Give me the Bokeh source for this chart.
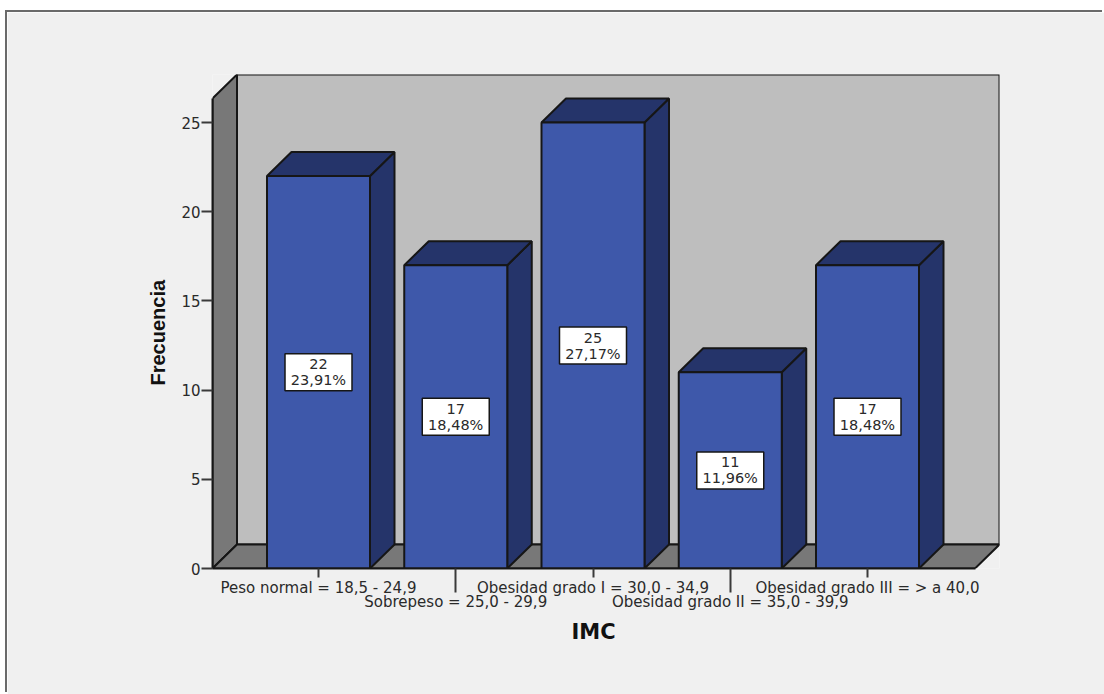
from bokeh.embed import file_html
from bokeh.models import FixedTicker, LinearAxis, Range1d, Title
from bokeh.plotting import figure
from bokeh.resources import INLINE
from bokeh.core.properties import value

# Body-mass-index groups and their counts
categories = [
    "Peso normal = 18,5 - 24,9",
    "Sobrepeso = 25,0 - 29,9",
    "Obesidad grado I = 30,0 - 34,9",
    "Obesidad grado II = 35,0 - 39,9",
    "Obesidad grado III = > a 40,0",
]
counts = [22, 17, 25, 11, 17]
percents = ["23,91%", "18,48%", "27,17%", "11,96%", "18,48%"]
y_ticks = [0, 5, 10, 15, 20, 25]

# Pixel scale of the plot area
PX_X = 137.25
PX_Y = 17.84
FRAME_L, FRAME_R, FRAME_T, FRAME_B = 212, 999, 74, 568
PANEL_L, PANEL_T = 7, 12
W, H = 1104, 694

x0 = 1 - (318 - FRAME_L) / PX_X
x1 = x0 + (FRAME_R - FRAME_L) / PX_X
y1 = (FRAME_B - FRAME_T) / PX_Y

# Oblique offset of the 3D box, in data units
dx = 24.5 / PX_X
dy = 24 / PX_Y
bar_w = 103 / PX_X
wall_top = y1 - dy

PANEL = "#f0f0f0"
WALL = "#bebebe"
SIDE = "#787878"
FACE = "#3e58aa"
DARK = "#25346a"
EDGE = "#161616"
INK = "#2a2a2a"
FONT = "DejaVu Sans"

p = figure(
    width=W - PANEL_L, height=H - PANEL_T, output_backend="svg", toolbar_location=None,
    x_range=Range1d(x0, x1), y_range=Range1d(0, y1),
    min_border_left=FRAME_L - PANEL_L, min_border_right=W - FRAME_R,
    min_border_top=FRAME_T - PANEL_T, min_border_bottom=H - FRAME_B,
    border_fill_color=PANEL, background_fill_color=PANEL,
    outline_line_color=None, margin=(PANEL_T, 0, 0, PANEL_L),
    stylesheets=[":host { box-shadow: -2px -2px 0 #6a6a6a; }"],
)
p.grid.visible = False

# Box walls and floor
p.patch([x0 + dx, x1, x1, x0 + dx], [dy, dy, y1, y1], fill_color=WALL, line_color=EDGE, line_width=2)
p.patch([x0, x0 + dx, x0 + dx, x0], [0, dy, y1, wall_top], fill_color=SIDE, line_color=EDGE, line_width=2)
p.patch([x0, x0 + dx, x1, x1 - dx], [0, dy, dy, 0], fill_color=SIDE, line_color=EDGE, line_width=2)

# Bars: side face, top face, then front face
xs = list(range(1, len(counts) + 1))
lefts = [x - bar_w / 2 for x in xs]
rights = [x + bar_w / 2 for x in xs]
p.patches(
    [[r, r + dx, r + dx, r] for r in rights],
    [[0, dy, c + dy, c] for c in counts],
    fill_color=DARK, line_color=EDGE, line_width=2,
)
p.patches(
    [[l, l + dx, r + dx, r] for l, r in zip(lefts, rights)],
    [[c, c + dy, c + dy, c] for c in counts],
    fill_color=DARK, line_color=EDGE, line_width=2,
)
p.quad(left=lefts, right=rights, bottom=0, top=counts, fill_color=FACE, line_color=EDGE, line_width=2)

# Value labels centred on each bar
mids = [c / 2 for c in counts]
p.rect(xs, mids, width=67, height=37, width_units="screen", height_units="screen",
       fill_color="white", line_color=EDGE, line_width=1.5)
p.text(xs, mids, text=[str(c) for c in counts], y_offset=-8, text_align="center", text_baseline="middle",
       text_font=value(FONT), text_font_size="14.5px", text_color=INK)
p.text(xs, mids, text=percents, y_offset=8, text_align="center", text_baseline="middle",
       text_font=value(FONT), text_font_size="14.5px", text_color=INK)

# Category axis: upper row of labels, with the lower row's longer ticks as minor ticks
upper = xs[0::2]
lower = xs[1::2]
ax = p.xaxis[0]
ax.ticker = FixedTicker(ticks=upper, minor_ticks=lower)
ax.major_label_overrides = {x: categories[x - 1] for x in upper}
ax.major_label_standoff = -14
ax.major_tick_out = 9
ax.major_tick_in = 0
ax.minor_tick_out = 24
ax.minor_tick_in = 0
ax.major_tick_line_color = "#3a3a3a"
ax.minor_tick_line_color = "#3a3a3a"
ax.major_tick_line_width = 2
ax.minor_tick_line_width = 2
ax.axis_line_color = EDGE
ax.axis_line_width = 2
ax.bounds = (x0, x1 - dx)
ax.major_label_text_font = FONT
ax.major_label_text_font_size = "15px"
ax.major_label_text_color = INK

# Lower row of category labels
ax2 = LinearAxis(
    ticker=FixedTicker(ticks=lower),
    major_label_overrides={x: categories[x - 1] for x in lower},
    major_label_standoff=-13,
    major_tick_line_color=None, minor_tick_line_color=None, axis_line_color=None,
    major_label_text_font=FONT, major_label_text_font_size="15px", major_label_text_color=INK,
)
p.add_layout(ax2, "below")

# Axis titles, placed under the box floor and beside the box wall
p.add_layout(Title(
    text="IMC", align="left", offset=571 - FRAME_L, standoff=8,
    text_font=FONT, text_font_style="bold", text_font_size="21px", text_color="#111111",
), "below")

# Count axis
ay = p.yaxis[0]
ay.ticker = FixedTicker(ticks=y_ticks)
ay.bounds = (0, wall_top)
ay.major_tick_out = 11
ay.major_tick_in = 0
ay.minor_tick_line_color = None
ay.major_tick_line_color = "#3a3a3a"
ay.major_tick_line_width = 2
ay.axis_line_color = EDGE
ay.axis_line_width = 2
ay.major_label_standoff = 1
ay.major_label_text_font = FONT
ay.major_label_text_font_size = "15px"
ay.major_label_text_color = INK

p.add_layout(Title(
    text="Frecuencia", align="left", offset=FRAME_B - 385, standoff=20,
    text_font="Liberation Sans", text_font_style="bold", text_font_size="20px", text_color="#111111",
), "left")

open("out.html", "w").write(file_html(p, INLINE))
